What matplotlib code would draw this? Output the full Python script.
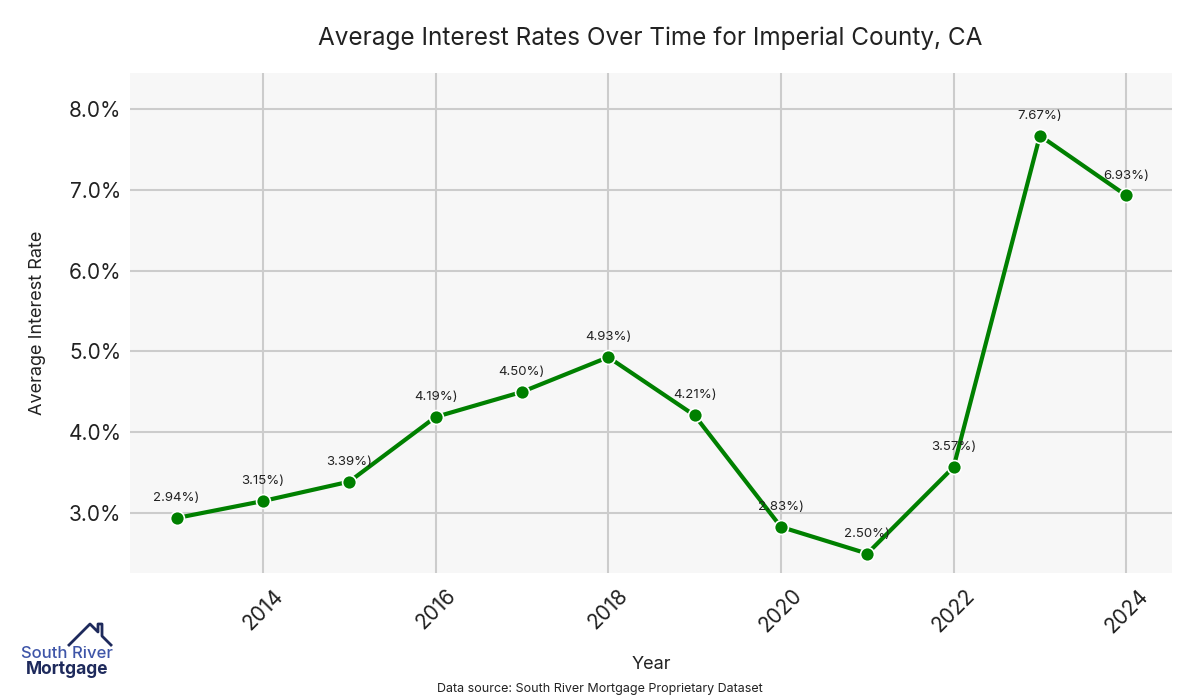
import numpy as np
import matplotlib.pyplot as plt
from matplotlib.lines import Line2D
from matplotlib.ticker import FuncFormatter

years = [2013, 2014, 2015, 2016, 2017, 2018, 2019, 2020, 2021, 2022, 2023, 2024]
rates = [2.94, 3.15, 3.39, 4.19, 4.50, 4.93, 4.21, 2.83, 2.50, 3.57, 7.67, 6.93]

plt.rcParams['font.family'] = ['Inter', 'DejaVu Sans']

fig = plt.figure(figsize=(12, 7), dpi=100)
ax = fig.add_axes([130 / 1200, 1 - 573 / 700, 1042 / 1200, 500 / 700])
ax.set_facecolor("#f7f7f7")

ax.plot(years, rates, color="#008000", lw=3, marker="o", markersize=10,
        markerfacecolor="#008000", markeredgecolor="white", markeredgewidth=1.2, zorder=3)
for x, y in zip(years, rates):
    ax.annotate(f"{y:.2f}%)", (x, y), xytext=(0, 10), textcoords="offset points",
                ha="center", va="bottom", fontsize=9.5, color="#222222")

ax.set_xlim(2012.46, 2024.53)
ax.set_ylim(2.26, 8.445)
ax.set_xticks([2014, 2016, 2018, 2020, 2022, 2024])
ax.set_yticks([3, 4, 5, 6, 7, 8])
ax.yaxis.set_major_formatter(FuncFormatter(lambda v, p: f"{v:.1f}%"))
ax.tick_params(axis="x", labelsize=15, rotation=45, length=0, pad=9, colors="#222222")
ax.tick_params(axis="y", labelsize=15, length=0, pad=6, colors="#222222")
for lbl in ax.get_xticklabels():
    lbl.set_ha("center")
ax.grid(True, color="#cccccc", lw=1.5)
ax.set_axisbelow(True)
for s in ax.spines.values():
    s.set_visible(False)

ax.set_xlabel("Year", fontsize=13, color="#222222", labelpad=14)
ax.set_ylabel("Average Interest Rate", fontsize=13, color="#222222", labelpad=16)
fig.text(0.542, 1 - 38 / 700, "Average Interest Rates Over Time for Imperial County, CA",
         ha="center", va="center", fontsize=17.5, color="#222222")
fig.text(0.5, 1 - 689 / 700, "Data source: South River Mortgage Proprietary Dataset",
         ha="center", va="center", fontsize=9, color="#222222")

# logo
fig.text(67 / 1200, 1 - 653 / 700, "South River", ha="center", va="center",
         fontsize=12, color="#3e55a8", fontweight="medium")
fig.text(67 / 1200, 1 - 670 / 700, "Mortgage", ha="center", va="center",
         fontsize=12.5, color="#1e2a5c", fontweight="bold")
roof_x = [69, 90, 98, 98, 102, 102, 111]
roof_y = [645, 624, 632, 624, 624, 636, 645]
fig.add_artist(Line2D([v / 1200 for v in roof_x], [1 - v / 700 for v in roof_y],
                      color="#1e2a5c", lw=2))

fig.savefig("out.png", dpi=100)
